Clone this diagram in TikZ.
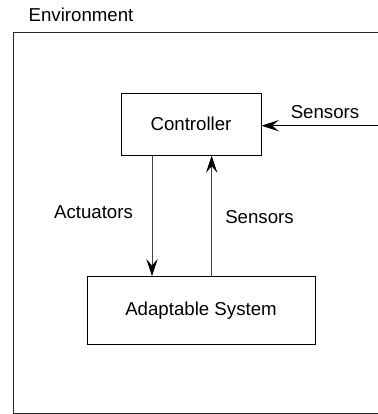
\documentclass[tikz,border=0pt]{standalone}
\usepackage{fontspec}
\setmainfont{Liberation Sans}
\usetikzlibrary{arrows.meta}
\tikzset{block/.style={draw, line width=0.75pt, rectangle, inner sep=0pt, font=\fontsize{14}{16}\selectfont},
	lbl/.style={inner sep=0pt, font=\fontsize{14}{16}\selectfont},
	flow/.style={draw=black!75, line width=0.75pt, -{Stealth[length=13pt, width=8.5pt, inset=5pt, black]}}
}
\begin{document}
\begin{tikzpicture}[x=0.75pt, y=-0.75pt]
	\useasboundingbox (0,0) rectangle (378,414);
	\clip (0,0) rectangle (378,414);
	% environment frame, cut off at the right
	\draw[line width=0.75pt, black!85] (13.5,32) rectangle (400,413.3);
	\node[lbl] (env) at (81,15) {Environment};
	
	\node[block, minimum width=105pt, minimum height=46.5pt] (ctrl) at (191,124) {Controller};
	\node[block, minimum width=171pt, minimum height=50.6pt] (sys) at (201,310.5) {Adaptable System};
	\coordinate (outside) at (378,125.7);
	
	% draw arrows
	\draw[flow] ([xshift=-29.25pt]ctrl.south) -- ([xshift=-36.75pt]sys.north);
	\draw[flow] ([xshift=8pt]sys.north) -- ([xshift=15.5pt]ctrl.south);
	\draw[flow, draw=black, line width=1pt] (outside) -- (ctrl.east |- outside);
	\node[lbl] (act) at (93.5,211.7) {Actuators};
	\node[lbl] (sens) at (259.5,217) {Sensors};
	\node[lbl] (sensin) at (325,112) {Sensors};
\end{tikzpicture}
\end{document}
